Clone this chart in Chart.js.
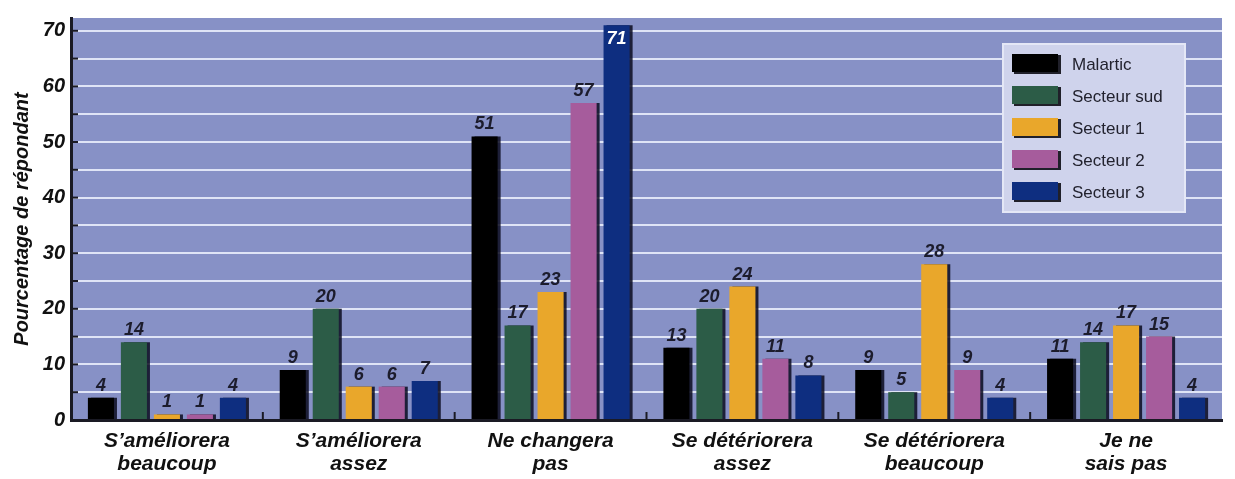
<!DOCTYPE html>
<html>
<head>
<meta charset="utf-8">
<script src="https://cdn.jsdelivr.net/npm/chart.js@4/dist/chart.umd.min.js"></script>
<style>
  html, body { margin: 0; padding: 0; background: #fff; }
  #wrap { width: 1235px; height: 479px; }
</style>
</head>
<body>
<div id="wrap"><canvas id="chart"></canvas></div>
<script>
// categories et séries
const categories = [
  ['S\u2019améliorera', 'beaucoup'],
  ['S\u2019améliorera', 'assez'],
  ['Ne changera', 'pas'],
  ['Se détériorera', 'assez'],
  ['Se détériorera', 'beaucoup'],
  ['Je ne', 'sais pas']
];
const seriesNames = ['Malartic', 'Secteur sud', 'Secteur 1', 'Secteur 2', 'Secteur 3'];
const malartic = [4, 9, 51, 13, 9, 11];
const secteurSud = [14, 20, 17, 20, 5, 14];
const secteur1 = [1, 6, 23, 24, 28, 17];
const secteur2 = [1, 6, 57, 11, 9, 15];
const secteur3 = [4, 7, 71, 8, 4, 4];
const yTicks = [0, 5, 10, 15, 20, 25, 30, 35, 40, 45, 50, 55, 60, 65, 70];

const colors = ['#000000', '#2c5c47', '#e9a72b', '#a65c9c', '#0e2e80'];
const values = [malartic, secteurSud, secteur1, secteur2, secteur3];

const font = 'Liberation Sans, Arial, sans-serif';

// ombre portée des barres
const shadowPlugin = {
  id: 'shadow',
  beforeDatasetsDraw(chart) {
    const ctx = chart.ctx;
    ctx.save();
    ctx.shadowColor = 'rgba(10,10,30,0.85)';
    ctx.shadowOffsetX = 3;
    ctx.shadowOffsetY = 0;
    ctx.shadowBlur = 0;
  },
  afterDatasetsDraw(chart) {
    chart.ctx.restore();
  }
};

// petites marques dans la zone de tracé
const tickMarkPlugin = {
  id: 'tickMarks',
  afterDatasetsDraw(chart) {
    const ctx = chart.ctx;
    const a = chart.chartArea;
    const y = chart.scales.y;
    const x = chart.scales.x;
    ctx.save();
    ctx.strokeStyle = '#1a1a24';
    ctx.lineWidth = 2;
    yTicks.forEach(v => {
      const py = y.getPixelForValue(v);
      ctx.beginPath();
      ctx.moveTo(a.left, py);
      ctx.lineTo(a.left + 7, py);
      ctx.stroke();
    });
    for (let i = 1; i < categories.length; i++) {
      const px = (x.getPixelForValue(i - 1) + x.getPixelForValue(i)) / 2;
      ctx.beginPath();
      ctx.moveTo(px, a.bottom);
      ctx.lineTo(px, a.bottom - 8);
      ctx.stroke();
    }
    ctx.restore();
  }
};

// étiquettes de valeurs + légende
const labelPlugin = {
  id: 'labels',
  afterDatasetsDraw(chart) {
    const ctx = chart.ctx;
    ctx.save();
    ctx.font = 'italic bold 18px ' + font;
    ctx.textAlign = 'center';
    chart.data.datasets.forEach((ds, i) => {
      const meta = chart.getDatasetMeta(i);
      meta.data.forEach((bar, j) => {
        const v = ds.data[j];
        if (v >= 70) {
          ctx.fillStyle = '#ffffff';
          ctx.textBaseline = 'top';
          ctx.fillText(v, bar.x, bar.y + 5);
        } else {
          ctx.fillStyle = '#1c1c2c';
          ctx.textBaseline = 'bottom';
          ctx.fillText(v, bar.x, bar.y - 3);
        }
      });
    });
    ctx.restore();
  },
  afterDraw(chart) {
    const ctx = chart.ctx;
    const x0 = 1003, y0 = 44, w = 182, h = 168;
    ctx.save();
    ctx.fillStyle = '#cfd3ec';
    ctx.fillRect(x0, y0, w, h);
    ctx.strokeStyle = '#e4e7f6';
    ctx.lineWidth = 2;
    ctx.strokeRect(x0, y0, w, h);
    ctx.font = '17px ' + font;
    ctx.textBaseline = 'middle';
    ctx.textAlign = 'left';
    chart.data.datasets.forEach((ds, i) => {
      const cy = y0 + 20 + i * 32;
      ctx.fillStyle = '#20202a';
      ctx.fillRect(x0 + 11, cy - 9, 47, 19);
      ctx.fillStyle = ds.backgroundColor;
      ctx.fillRect(x0 + 9, cy - 10, 46, 18);
      ctx.fillStyle = '#22222e';
      ctx.fillText(ds.label, x0 + 69, cy + 1);
    });
    ctx.restore();
  }
};

const bgPlugin = {
  id: 'plotBg',
  beforeDraw(chart) {
    const a = chart.chartArea;
    const ctx = chart.ctx;
    ctx.save();
    ctx.fillStyle = '#8791c6';
    ctx.fillRect(a.left, a.top, a.right - a.left, a.bottom - a.top);
    ctx.restore();
  }
};

new Chart(document.getElementById('chart'), {
  type: 'bar',
  data: {
    labels: categories,
    datasets: seriesNames.map((name, i) => ({
      label: name,
      data: values[i],
      backgroundColor: colors[i],
      borderWidth: 0
    }))
  },
  options: {
    responsive: true,
    maintainAspectRatio: false,
    animation: false,
    layout: { padding: { left: 0, right: 13, top: 15, bottom: 0 } },
    datasets: { bar: { categoryPercentage: 0.86, barPercentage: 0.79 } },
    plugins: {
      legend: { display: false },
      tooltip: { enabled: false }
    },
    scales: {
      x: {
        grid: { display: false },
        border: { display: true, color: '#1a1a24', width: 3 },
        ticks: {
          color: '#111',
          font: { family: font, size: 21, style: 'italic', weight: 'bold', lineHeight: 1.08 },
          padding: 2,
          maxRotation: 0
        },
        afterFit(scale) { scale.height = 59; }
      },
      y: {
        min: 0,
        max: 72.3,
        afterBuildTicks(scale) { scale.ticks = yTicks.map(v => ({ value: v })); },
        grid: { color: '#dfe4f6', lineWidth: 2, drawTicks: false },
        border: { display: true, color: '#1a1a24', width: 3 },
        ticks: {
          color: '#111',
          padding: 6,
          font: { family: font, size: 20, style: 'italic', weight: 'bold' },
          callback: v => (v % 10 === 0 ? v : '')
        },
        title: {
          display: true,
          text: 'Pourcentage de répondant',
          color: '#111',
          font: { family: font, size: 20, style: 'italic', weight: 'bold' },
          padding: { top: 10, bottom: 2 }
        },
        afterFit(scale) { scale.width = 71; }
      }
    }
  },
  plugins: [bgPlugin, shadowPlugin, tickMarkPlugin, labelPlugin]
});
</script>
</body>
</html>
